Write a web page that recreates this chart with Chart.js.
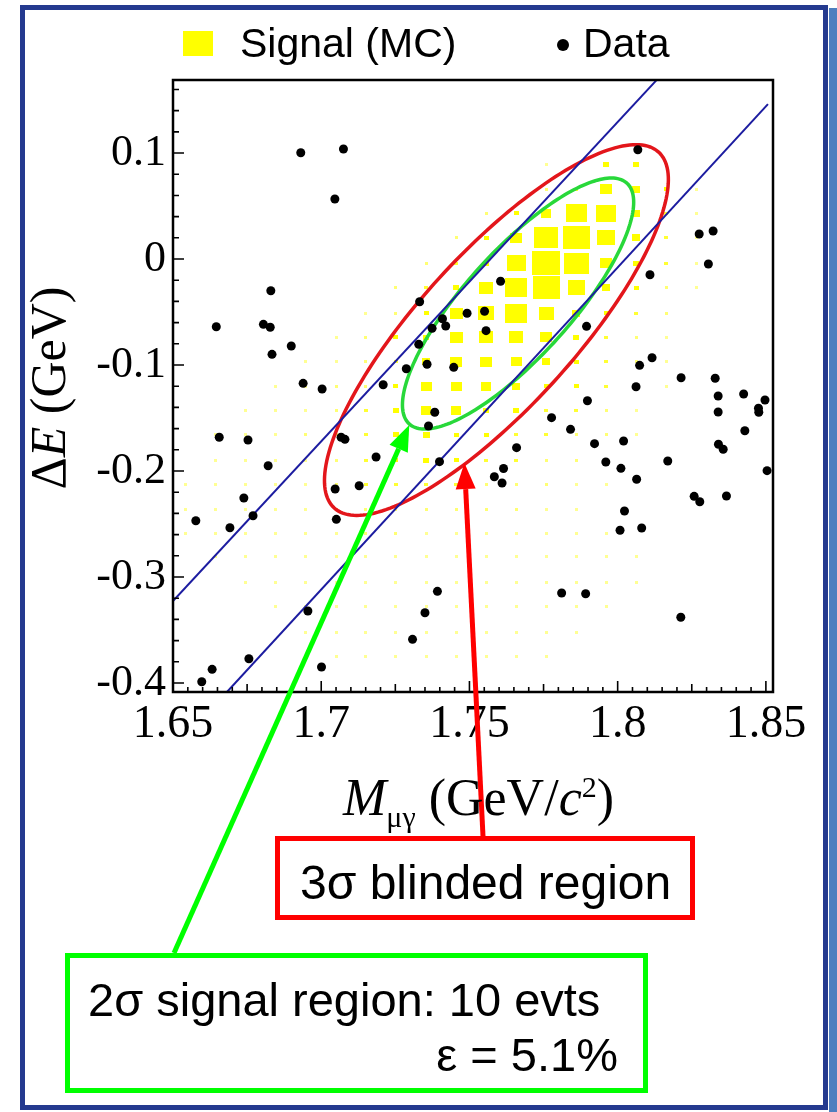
<!DOCTYPE html>
<html>
<head>
<meta charset="utf-8">
<script src="https://cdn.jsdelivr.net/npm/chart.js@4.4.1/dist/chart.umd.min.js"></script>
<style>
  body { margin: 0; background: #fff; }
  #wrap { position: relative; width: 837px; height: 1112px; overflow: hidden; background: #fff; }
  #c { position: absolute; left: 0; top: 0; }
  .t { position: absolute; white-space: nowrap; line-height: 1; color: #000; }
  .sans { font-family: "Liberation Sans", Arial, sans-serif; }
  .serif { font-family: "Liberation Serif", "Times New Roman", serif; }
  .box { position: absolute; box-sizing: border-box; border: 5px solid; }
</style>
</head>
<body>
<div id="wrap">
  <canvas id="c" width="837" height="1112"></canvas>

  <div style="position:absolute;left:20px;top:5px;width:798px;height:1095px;border:5.5px solid #243a8f;"></div>
  <div style="position:absolute;left:829px;top:8px;width:8px;height:1104px;background:#4f7fbf;"></div>

  <!-- legend -->
  <div style="position:absolute;left:183px;top:31px;width:30px;height:25px;background:#ffff00;"></div>
  <span class="t sans" style="left:240px;top:23px;font-size:41px;">Signal (MC)</span>
  <div style="position:absolute;left:557px;top:39px;width:12px;height:12px;border-radius:50%;background:#000;"></div>
  <span class="t sans" style="left:583px;top:23px;font-size:41px;">Data</span>

  <!-- axis titles -->
  <span class="t serif" style="left:343px;top:772px;font-size:52px;"><i>M</i><sub style="font-size:30px;">μγ</sub> (GeV/<i>c</i><sup style="font-size:30px;">2</sup>)</span>
  <span class="t serif" style="left:48px;top:388px;font-size:50px;transform:translate(-50%,-50%) rotate(-90deg);">Δ<i>E</i> (GeV)</span>

  <!-- annotation boxes -->
  <div class="box" style="left:275px;top:836px;width:420px;height:84px;border-color:#ff0000;"></div>
  <span class="t sans" style="left:300px;top:859px;font-size:48px;">3σ blinded region</span>
  <div class="box" style="left:65px;top:953px;width:583px;height:140px;border-color:#00ff00;"></div>
  <span class="t sans" style="left:88px;top:976px;font-size:47px;">2σ signal region: 10 evts</span>
  <span class="t sans" style="right:219px;top:1031px;font-size:47px;">ε = 5.1%</span>
</div>

<script>
// --- signal MC box histogram (bin centres and contents) ---
const sigM = [1.6543, 1.6644, 1.6746, 1.6847, 1.6948, 1.7050, 1.7151, 1.7252, 1.7354, 1.7455,
              1.7556, 1.7658, 1.7759, 1.7860, 1.7962, 1.8063, 1.8164, 1.8266, 1.8367];
const sigDE = [0.089, 0.066, 0.043, 0.020, -0.004, -0.027, -0.051, -0.074, -0.097, -0.120, -0.143,
               -0.166, -0.190, -0.213, -0.236, -0.259, -0.281, -0.305, -0.328, -0.352, -0.375];
const sigCounts = [
  [0,0,0,0,0,0,0,0,0,0,0,0,0.5,1,4.6,4.6,1,0,0],
  [0,0,0,0,0,0,0,0,0,0,0,0,1,2,18,8,3,0.5,0],
  [0,0,0,0,0,0,0,0,0,0,1,3,13,56,51,8,2,0.5,0],
  [0,0,0,0,0,0,0,0,0,1,3,18,73,93,41,8,2,0.5,0],
  [0,0,0,0,0,0,0,0,1,2,4.6,46,100,80,18,4.6,2,0.5,0],
  [0,0,0,0,0,0,0,1,2,4.6,25,62,93,37,8,3,1,0.5,0],
  [0,0,0,0,0,0,0.5,1,3,22,33,62,29,8,3,2,1,0,0],
  [0,0,0,0,0,0.5,1,3,4.6,22,25,25,18,4.6,2,1,0.5,0,0],
  [0,0,0,0,0.5,0.5,1,2,8,18,18,15,8,3,2,1,0.5,0,0],
  [0,0,0,0.5,0.5,1,1,3,15,15,13,8,3,3,2,1,0.5,0,0],
  [0,0,0.5,0.5,0.5,1,2,4.6,13,13,4.6,4.6,2,2,1,0.5,0,0,0],
  [0,0.5,0.5,0.5,1,1,2,4.6,6,3,3,2,2,1,1,0.5,0,0,0],
  [0,0.5,0.5,0.5,0.5,1,2,3,4.6,3,2,2,1,1,0.5,0,0,0,0],
  [0.5,0.5,0.5,0.5,0.5,1,2,2,2,2,1,1,1,0.5,0.5,0,0,0,0],
  [0.5,0.5,0.5,0.5,0.5,1,1,1,1,1,1,1,0.5,0.5,0,0,0,0,0],
  [0.5,0.5,0.5,0.5,0.5,0.5,1,1,0.5,0.5,0.5,0.5,0.5,0.5,0.5,0,0,0,0],
  [0,0.5,0.5,0.5,0.5,0.5,0.5,0.5,0.5,0.5,0.5,0.5,0.5,0.5,0.5,0.5,0,0,0],
  [0,0,0.5,0.5,0.5,0.5,0.5,0.5,0.5,0.5,0.5,0.5,0.5,0.5,0.5,0.5,0,0,0],
  [0,0,0,0.5,0.5,0.5,0.5,0.5,0.5,0.5,0.5,0.5,0.5,0.5,0.5,0,0,0,0],
  [0,0,0,0,0.5,0.5,0.5,0.5,0.5,0.5,0.5,0.5,0.5,0.5,0,0,0,0,0],
  [0,0,0,0,0,0.5,0.5,0.5,0.5,0.5,0.5,0.5,0.5,0,0,0,0,0,0]
];

// --- data events ---
const dataM = [
  1.6931,1.7075,1.7046,1.8068,1.6830,1.6646,1.6805,1.6828,1.6899,1.6834,
  1.6939,1.7003,1.7209,1.7605,1.7332,1.7492,1.7551,1.7409,1.7420,1.7374,
  1.7556,1.7329,1.7357,1.7447,1.7287,1.8275,1.8322,1.8306,1.8109,1.7895,
  1.8116,1.8074,1.8214,1.8329,1.8062,1.8339,1.8425,1.8497,1.7898,1.8339,
  1.8475,1.8476,1.7777,1.7841,1.7659,1.7922,1.8020,1.8429,1.8340,1.8356,
  1.7960,1.8011,1.8169,1.8504,1.7615,1.7584,1.7610,1.8064,1.8258,1.8277,
  1.8367,1.8023,1.8008,1.8081,1.7811,1.7892,1.8213,1.7383,1.7362,1.6656,
  1.6753,1.7067,1.7080,1.6821,1.7185,1.7399,1.7047,1.7128,1.6739,1.6577,
  1.6692,1.6770,1.7051,1.7392,1.7350,1.6955,1.7308,1.6756,1.6632,1.7001,
  1.6597
];
const dataDE = [
  0.1003,0.1038,0.0566,0.1031,-0.0299,-0.0639,-0.0616,-0.0644,-0.0821,-0.0899,
  -0.1173,-0.1226,-0.1186,-0.0210,-0.0403,-0.0512,-0.0493,-0.0563,-0.0632,-0.0654,
  -0.0676,-0.0805,-0.0993,-0.1022,-0.1035,0.0236,0.0264,-0.0047,-0.0148,-0.0635,
  -0.0931,-0.1003,-0.1120,-0.1125,-0.1205,-0.1292,-0.1274,-0.1330,-0.1337,-0.1443,
  -0.1408,-0.1446,-0.1497,-0.1607,-0.1780,-0.1742,-0.1717,-0.1620,-0.1748,-0.1795,
  -0.1915,-0.1975,-0.1906,-0.1997,-0.1976,-0.2054,-0.2113,-0.2078,-0.2239,-0.2290,
  -0.2236,-0.2377,-0.2559,-0.2538,-0.3151,-0.3158,-0.3380,-0.1446,-0.1575,-0.1682,
  -0.1708,-0.1682,-0.1701,-0.1950,-0.1868,-0.1912,-0.2170,-0.2139,-0.2255,-0.2469,
  -0.2535,-0.2422,-0.2456,-0.3135,-0.3337,-0.3321,-0.3588,-0.3771,-0.3871,-0.3849,
  -0.3988
];

// --- band lines (end points) ---
const bandUpperM = [1.6497, 1.8132];
const bandUpperDE = [-0.3236, 0.1690];
const bandLowerM = [1.6682, 1.8507];
const bandLowerDE = [-0.4085, 0.1462];

// --- 3 sigma and 2 sigma ellipses: centre and two conjugate semi-axes ---
const ell3Center = [1.7591, -0.0670];
const ell3AxisA = [0.0547, 0.1679];
const ell3AxisB = [0.0193, -0.0490];
const ell2Center = [1.7664, -0.0420];
const ell2AxisA = [0.0367, 0.1136];
const ell2AxisB = [0.0132, -0.0334];

// --- axes ---
const xTicks = [1.65, 1.7, 1.75, 1.8, 1.85];
const yTicks = [0.1, 0, -0.1, -0.2, -0.3, -0.4];
const xRange = [1.65, 1.8524];
const yRange = [-0.4085, 0.1689];

const signalPoints = [];
sigDE.forEach((de, r) => {
  sigM.forEach((m, c) => {
    if (sigCounts[r][c] > 0) signalPoints.push({x: m, y: de, n: sigCounts[r][c]});
  });
});
const dataPoints = dataM.map((m, i) => ({x: m, y: dataDE[i]}));
const toXY = (xs, ys) => xs.map((v, i) => ({x: v, y: ys[i]}));

const fmt = v => Math.abs(v) < 1e-9 ? '0' : String(+v.toFixed(2));

// box marker: area grows with bin content, shape follows the bin cell
const boxCache = {};
function boxImage(n) {
  if (boxCache[n]) return boxCache[n];
  const s = Math.sqrt(n / 100);
  const w = Math.max(3, Math.round(28 * s));
  const h = Math.max(3, Math.round(24 * s));
  const cv = document.createElement('canvas');
  cv.width = w; cv.height = h;
  const g = cv.getContext('2d');
  g.fillStyle = 'rgba(255,255,0,' + Math.min(1, 0.3 + n / 4) + ')';
  g.fillRect(0, 0, w, h);
  boxCache[n] = cv;
  return cv;
}

function drawEllipse(chart, c, a, b, color) {
  const xs = chart.scales.x, ys = chart.scales.y, ctx = chart.ctx;
  const cx = xs.getPixelForValue(c[0]), cy = ys.getPixelForValue(c[1]);
  const ax = xs.getPixelForValue(c[0] + a[0]) - cx, ay = ys.getPixelForValue(c[1] + a[1]) - cy;
  const bx = xs.getPixelForValue(c[0] + b[0]) - cx, by = ys.getPixelForValue(c[1] + b[1]) - cy;
  ctx.beginPath();
  for (let i = 0; i <= 200; i++) {
    const t = i / 200 * Math.PI * 2;
    const px = cx + ax * Math.cos(t) + bx * Math.sin(t);
    const py = cy + ay * Math.cos(t) + by * Math.sin(t);
    if (i === 0) ctx.moveTo(px, py); else ctx.lineTo(px, py);
  }
  ctx.closePath();
  ctx.strokeStyle = color;
  ctx.lineWidth = 3.5;
  ctx.stroke();
}

function arrow(ctx, x0, y0, x1, y1, color) {
  const ang = Math.atan2(y1 - y0, x1 - x0);
  const hl = 26, hw = 10;
  const bx = x1 - hl * Math.cos(ang), by = y1 - hl * Math.sin(ang);
  ctx.strokeStyle = color;
  ctx.lineWidth = 5;
  ctx.beginPath(); ctx.moveTo(x0, y0); ctx.lineTo(bx, by); ctx.stroke();
  ctx.fillStyle = color;
  ctx.beginPath();
  ctx.moveTo(x1, y1);
  ctx.lineTo(bx + hw * Math.sin(ang), by - hw * Math.cos(ang));
  ctx.lineTo(bx - hw * Math.sin(ang), by + hw * Math.cos(ang));
  ctx.closePath(); ctx.fill();
}

const overlay = {
  id: 'overlay',
  beforeDraw(chart) {
    const ctx = chart.ctx;
    ctx.save(); ctx.fillStyle = '#fff'; ctx.fillRect(0, 0, chart.width, chart.height); ctx.restore();
  },
  afterDatasetDraw(chart, args) {
    if (args.index !== 0) return;
    const ctx = chart.ctx, a = chart.chartArea;
    ctx.save();
    ctx.beginPath(); ctx.rect(a.left, a.top, a.right - a.left, a.bottom - a.top); ctx.clip();
    drawEllipse(chart, ell3Center, ell3AxisA, ell3AxisB, '#e3161b');
    drawEllipse(chart, ell2Center, ell2AxisA, ell2AxisB, '#28d83a');
    ctx.restore();
  },
  afterDraw(chart) {
    const ctx = chart.ctx, a = chart.chartArea, xs = chart.scales.x, ys = chart.scales.y;
    ctx.save();
    // frame
    ctx.strokeStyle = '#000'; ctx.lineWidth = 2.5;
    ctx.strokeRect(a.left, a.top, a.right - a.left, a.bottom - a.top);
    // inside ticks
    ctx.lineWidth = 1.6;
    ctx.beginPath();
    for (let k = Math.ceil(xRange[0] / 0.005 - 1e-6); k * 0.005 <= xRange[1] + 1e-9; k++) {
      const px = xs.getPixelForValue(k * 0.005);
      const len = k % 10 === 0 ? 11 : (k % 5 === 0 ? 8 : 5);
      ctx.moveTo(px, a.bottom); ctx.lineTo(px, a.bottom - len);
    }
    for (let k = Math.ceil(yRange[0] / 0.02 - 1e-6); k * 0.02 <= yRange[1] + 1e-9; k++) {
      const py = ys.getPixelForValue(k * 0.02);
      const len = k % 5 === 0 ? 11 : 6;
      ctx.moveTo(a.left, py); ctx.lineTo(a.left + len, py);
    }
    ctx.stroke();
    // annotation arrows
    arrow(ctx, 174, 953, xs.getPixelForValue(1.7297), ys.getPixelForValue(-0.1566), '#00ff00');
    arrow(ctx, 483, 836, xs.getPixelForValue(1.7483), ys.getPixelForValue(-0.1925), '#ff0000');
    ctx.restore();
  }
};

const tickFont = {family: "'Liberation Serif', 'Times New Roman', serif"};

new Chart(document.getElementById('c'), {
  type: 'scatter',
  data: {
    datasets: [
      {
        label: 'Signal (MC)',
        data: signalPoints,
        order: 4,
        pointStyle: ctx => boxImage(ctx.raw.n),
        pointRadius: 3,
        backgroundColor: '#ffff00',
        borderWidth: 0
      },
      {
        label: 'band upper',
        type: 'line',
        data: toXY(bandUpperM, bandUpperDE),
        order: 3,
        borderColor: '#1c1ca0',
        borderWidth: 2,
        pointRadius: 0,
        fill: false
      },
      {
        label: 'band lower',
        type: 'line',
        data: toXY(bandLowerM, bandLowerDE),
        order: 2,
        borderColor: '#1c1ca0',
        borderWidth: 2,
        pointRadius: 0,
        fill: false
      },
      {
        label: 'Data',
        data: dataPoints,
        order: 1,
        pointRadius: 4.5,
        backgroundColor: '#000',
        borderWidth: 0
      }
    ]
  },
  options: {
    responsive: false,
    animation: false,
    events: [],
    layout: {padding: {left: 73, top: 80, right: 64, bottom: 350}},
    plugins: {legend: {display: false}, tooltip: {enabled: false}},
    scales: {
      x: {
        type: 'linear', min: xRange[0], max: xRange[1],
        afterFit: s => { s.height = 70; },
        afterBuildTicks: s => { s.ticks = xTicks.map(v => ({value: v})); },
        grid: {display: false, drawTicks: false},
        border: {display: false},
        ticks: {padding: 5, color: '#000', maxRotation: 0, autoSkip: false,
                font: Object.assign({size: 46}, tickFont), callback: fmt}
      },
      y: {
        type: 'linear', min: yRange[0], max: yRange[1],
        afterFit: s => { s.width = 100; },
        afterBuildTicks: s => { s.ticks = yTicks.map(v => ({value: v})); },
        grid: {display: false, drawTicks: false},
        border: {display: false},
        ticks: {padding: 7, color: '#000', autoSkip: false,
                font: Object.assign({size: 44}, tickFont), callback: fmt}
      }
    }
  },
  plugins: [overlay]
});
</script>
</body>
</html>
